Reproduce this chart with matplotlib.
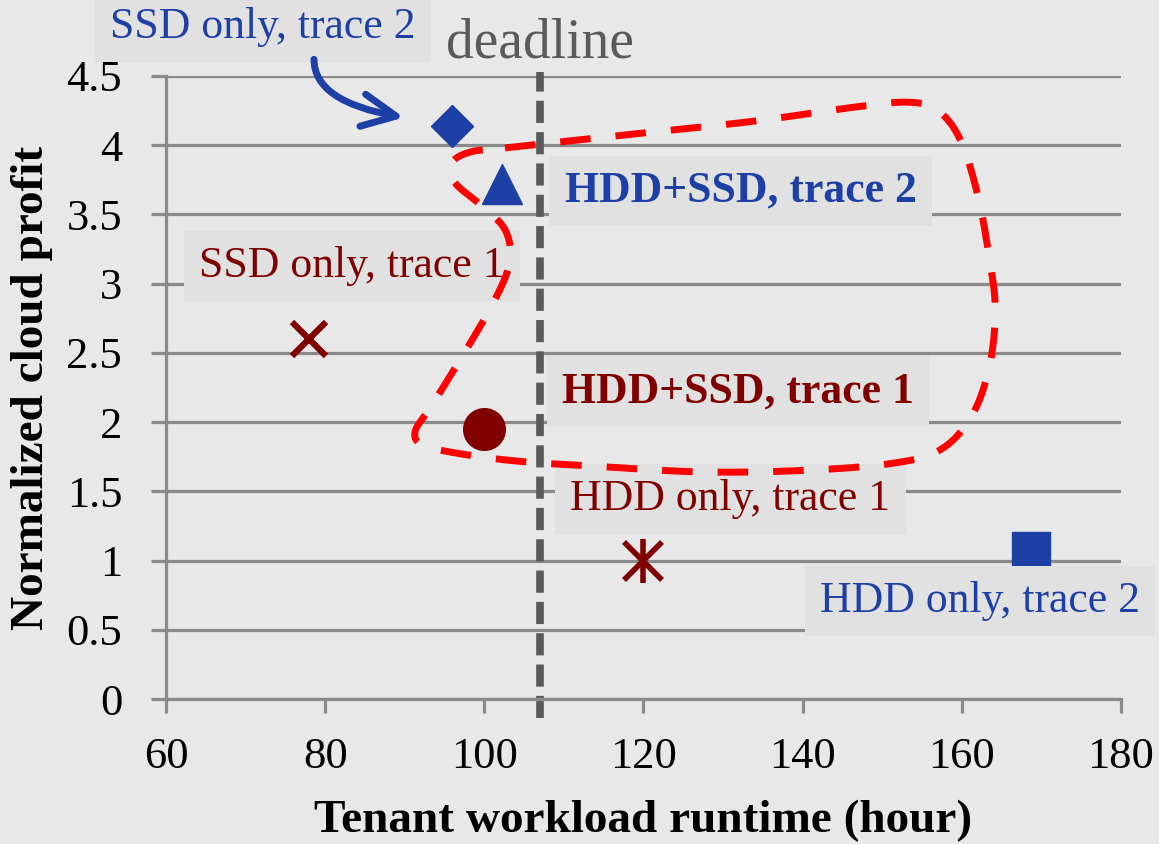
import numpy as np
import matplotlib
matplotlib.use('Agg')
import matplotlib.pyplot as plt
from matplotlib.patches import FancyArrowPatch

plt.rcParams['font.family'] = ['Liberation Serif', 'DejaVu Serif']

# data points (runtime in hours, normalized profit)
names   = ['SSD only, trace 1', 'HDD only, trace 1', 'HDD+SSD, trace 1',
           'SSD only, trace 2', 'HDD only, trace 2', 'HDD+SSD, trace 2']
runtime = [78, 120, 100, 96, 168.7, 102.2]
profit  = [2.6, 1.0, 1.95, 4.14, 1.07, 3.72]

xticks = [60, 80, 100, 120, 140, 160, 180]
yticks = [0, 0.5, 1, 1.5, 2, 2.5, 3, 3.5, 4, 4.5]
ylabels = ['0', '0.5', '1', '1.5', '2', '2.5', '3', '3.5', '4', '4.5']
DEADLINE = 107

# label anchors (x, baseline y) in data units
label_pos = {
    'SSD only, trace 2': (72.2, 4.775),
    'SSD only, trace 1': (83.4, 3.05),
    'HDD+SSD, trace 2': (132.2, 3.59),
    'HDD+SSD, trace 1': (131.9, 2.14),
    'HDD only, trace 1': (130.9, 1.365),
    'HDD only, trace 2': (162.3, 0.628),
}
bold_labels = ['HDD+SSD, trace 1', 'HDD+SSD, trace 2']

# outline of the highlighted group (hand drawn loop)
loop_x = [102.6, 117.0, 133.4, 147.2, 153.5, 157.0, 159.8, 162.0, 163.5, 164.2,
          163.5, 161.3, 157.3, 151.0, 139.7, 127.1, 114.5, 105.7, 98.2, 92.5,
          91.3, 93.4, 97.6, 101.3, 103.2, 102.6, 99.5, 96.3, 95.9, 98.2]
loop_y = [3.98, 4.07, 4.17, 4.28, 4.31, 4.25, 4.04, 3.64, 3.17, 2.81,
          2.41, 2.05, 1.80, 1.70, 1.65, 1.64, 1.68, 1.71, 1.76, 1.83,
          1.93, 2.12, 2.51, 2.88, 3.16, 3.39, 3.57, 3.73, 3.87, 3.95]

BLUE = '#1e3fa6'
RED = '#800000'
GRID = '#8a8a8a'
BG = '#e8e8e8'
BOX = '#e1e1e1'
DARK = '#5a5a5a'


def closed_spline(xs, ys, n=20):
    p = np.column_stack([xs, ys])
    m = len(p)
    out = []
    t = np.linspace(0, 1, n, endpoint=False)[:, None]
    for i in range(m):
        p0, p1, p2, p3 = p[i - 1], p[i], p[(i + 1) % m], p[(i + 2) % m]
        seg = 0.5 * ((2 * p1) + (-p0 + p2) * t + (2 * p0 - 5 * p1 + 4 * p2 - p3) * t ** 2
                     + (-p0 + 3 * p1 - 3 * p2 + p3) * t ** 3)
        out.append(seg)
    out = np.vstack(out + [p[:1]])
    return out[:, 0], out[:, 1]


fig = plt.figure(figsize=(11.59, 8.44), dpi=100, facecolor=BG)
ax = fig.add_axes([0.1432, 0.1718, 0.8240, 0.7382])
ax.set_facecolor(BG)

ax.set_xlim(60, 180)
ax.set_ylim(0, 4.5)
ax.set_xticks(xticks)
ax.set_yticks(yticks)
ax.set_yticklabels(ylabels)
ax.yaxis.grid(True, color=GRID, lw=2.3)
ax.set_axisbelow(True)
for s in ['top', 'right']:
    ax.spines[s].set_visible(False)
for s in ['left', 'bottom']:
    ax.spines[s].set_color(GRID)
    ax.spines[s].set_linewidth(2.3)
ax.tick_params(axis='y', length=10.5, width=2.3, color=GRID, pad=21, labelsize=32)
ax.tick_params(axis='x', length=10, width=2.3, color=GRID, pad=17, labelsize=32)
ax.set_xlabel('Tenant workload runtime (hour)', fontsize=34, fontweight='bold', labelpad=17)
ax.set_ylabel('Normalized cloud profit', fontsize=34, fontweight='bold', labelpad=10)

# deadline
ax.axvline(DEADLINE, ymin=-0.031, ymax=1.007, color=DARK, lw=5.5,
           ls=(0, (2.9, 1.2)), clip_on=False, zorder=2.5)
ax.text(DEADLINE, 4.63, 'deadline', color=DARK, fontsize=40, ha='center', va='baseline')

# markers
ax.plot(runtime[0], profit[0], ls='none', marker='x', ms=24, mew=4.5, color=RED, zorder=3)
ax.plot(runtime[1], profit[1], ls='none', marker='x', ms=28, mew=4, color=RED, zorder=3)
ax.plot(runtime[1], profit[1], ls='none', marker='|', ms=31, mew=4, color=RED, zorder=3)
ax.plot(runtime[2], profit[2], ls='none', marker='o', ms=30, color=RED, zorder=3)
ax.plot(runtime[3], profit[3], ls='none', marker='D', ms=21, color=BLUE, zorder=3)
ax.plot(runtime[4], profit[4], ls='none', marker='s', ms=27, color=BLUE, zorder=3)
ax.plot(runtime[5], profit[5], ls='none', marker='^', ms=29, color=BLUE, zorder=3)

# labels
for name in names:
    lx, ly = label_pos[name]
    col = BLUE if name.endswith('2') else RED
    ax.text(lx, ly, name, color=col, fontsize=31.5, ha='center', va='baseline',
            fontweight='bold' if name in bold_labels else 'normal',
            bbox=dict(boxstyle='square,pad=0.35', fc=BOX, ec='none'), zorder=4,
            clip_on=False)

# dashed loop around the hybrid configurations
sx, sy = closed_spline(loop_x, loop_y)
ax.plot(sx, sy, color='#ff0000', lw=5, ls=(0, (4.4, 3.6)), zorder=5)

# arrow pointing at SSD only, trace 2
arr = FancyArrowPatch((78.6, 4.62), (89.9, 4.20),
                      arrowstyle='->,head_length=1.35,head_width=0.65', mutation_scale=18,
                      connectionstyle='angle3,angleA=90,angleB=-10',
                      lw=5, color=BLUE, shrinkA=0, shrinkB=0, clip_on=False, zorder=5)
ax.add_patch(arr)

fig.savefig('out.png', dpi=100, facecolor=BG)
